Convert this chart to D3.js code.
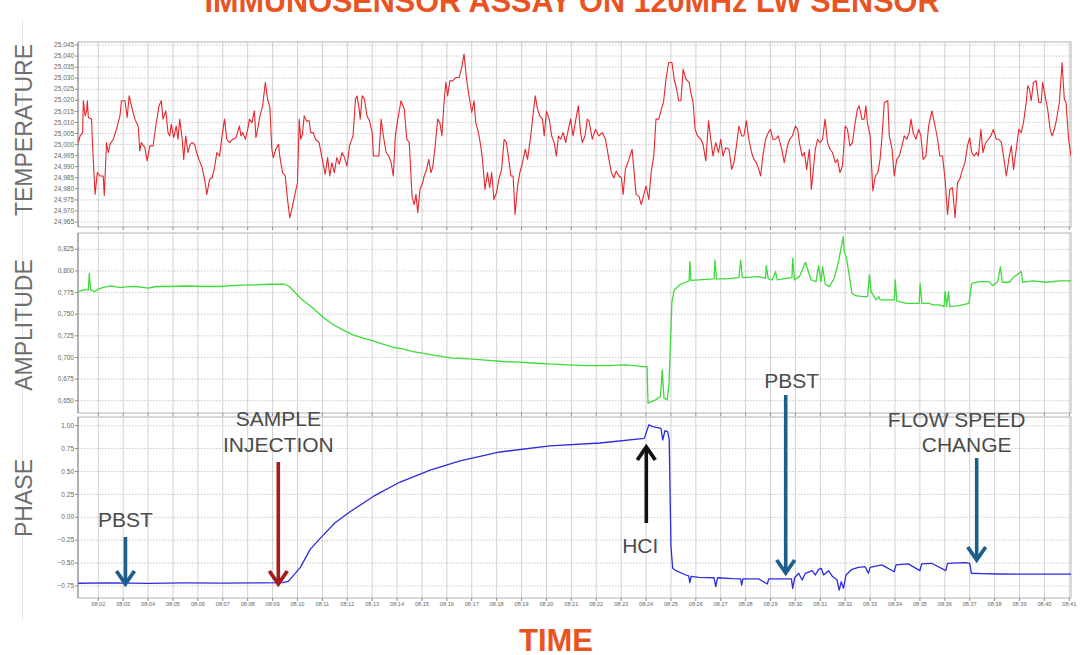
<!DOCTYPE html>
<html>
<head>
<meta charset="utf-8">
<script src="https://cdn.jsdelivr.net/npm/d3@7"></script>
<style>
  body { margin: 0; background: #fff; }
  svg { display: block; font-family: "Liberation Sans", Arial, sans-serif; }
</style>
</head>
<body>
<div id="chart"></div>
<script>
// minutes after 08:00 and the logged value
const tempReadings = [
  [1.20,25.0009],[1.27,25.0039],[1.37,25.0054],[1.40,25.0198],[1.47,25.0130],[1.53,25.0152],[1.56,25.0198],[1.60,25.0122],[1.73,25.0115],[1.77,24.9994],
  [1.87,24.9775],[1.96,24.9873],[2.07,24.9858],[2.20,24.9858],[2.24,24.9770],[2.33,25.0009],[2.40,24.9964],[2.47,25.0001],[2.60,25.0024],[2.73,25.0069],
  [2.87,25.0130],[2.93,25.0198],[3.07,25.0198],[3.16,25.0122],[3.24,25.0220],[3.33,25.0175],[3.47,25.0115],[3.60,25.0084],[3.67,24.9971],[3.73,25.0009],
  [3.87,24.9986],[3.96,24.9926],[4.07,24.9994],[4.20,24.9994],[4.31,25.0084],[4.44,25.0175],[4.53,25.0198],[4.60,25.0115],[4.71,25.0152],[4.80,25.0054],
  [4.87,25.0039],[4.93,25.0092],[5.03,25.0031],[5.13,25.0084],[5.20,25.0024],[5.27,25.0115],[5.37,25.0024],[5.43,24.9933],[5.51,25.0039],[5.60,24.9964],
  [5.69,25.0001],[5.77,25.0009],[5.87,25.0001],[5.93,24.9971],[6.04,24.9933],[6.17,24.9896],[6.27,24.9843],[6.36,24.9775],[6.47,24.9843],[6.57,24.9850],
  [6.67,24.9896],[6.76,24.9964],[6.87,24.9948],[6.97,25.0039],[7.07,25.0115],[7.16,25.0024],[7.27,25.0009],[7.40,25.0024],[7.53,25.0031],[7.67,25.0084],
  [7.73,25.0039],[7.80,25.0054],[7.91,25.0024],[8.00,25.0069],[8.07,25.0115],[8.17,25.0099],[8.27,25.0152],[8.33,25.0031],[8.40,25.0069],[8.49,25.0130],
  [8.60,25.0175],[8.71,25.0281],[8.80,25.0205],[8.89,25.0167],[8.97,24.9979],[9.03,24.9941],[9.13,24.9979],[9.24,25.0001],[9.29,24.9948],[9.40,24.9873],
  [9.51,24.9858],[9.60,24.9752],[9.69,24.9669],[9.80,24.9722],[9.91,24.9782],[10.00,24.9828],[10.07,25.0115],[10.13,25.0024],[10.20,25.0046],[10.27,25.0130],
  [10.36,25.0107],[10.47,25.0107],[10.53,25.0054],[10.63,25.0054],[10.73,25.0024],[10.87,25.0009],[10.97,24.9948],[11.11,24.9865],[11.21,24.9941],[11.30,24.9858],
  [11.38,24.9918],[11.48,24.9873],[11.58,24.9941],[11.68,24.9911],[11.79,24.9964],[11.89,24.9941],[11.99,24.9903],[12.09,24.9994],[12.23,25.0039],[12.33,25.0205],
  [12.39,25.0220],[12.47,25.0167],[12.52,25.0115],[12.60,25.0220],[12.69,25.0205],[12.79,25.0130],[12.89,25.0107],[13.00,25.0054],[13.05,24.9948],[13.16,24.9948],
  [13.27,24.9948],[13.36,25.0115],[13.45,25.0039],[13.56,24.9964],[13.67,24.9948],[13.76,24.9918],[13.85,24.9858],[13.93,25.0039],[14.03,25.0115],[14.16,25.0198],
  [14.29,25.0160],[14.39,25.0024],[14.49,25.0009],[14.60,24.9767],[14.69,24.9729],[14.76,24.9775],[14.83,24.9692],[14.92,24.9797],[15.03,24.9828],[15.09,24.9858],
  [15.19,24.9888],[15.27,24.9933],[15.36,24.9873],[15.43,24.9896],[15.53,24.9994],[15.63,25.0115],[15.72,25.0099],[15.80,25.0039],[15.89,25.0198],[15.96,25.0281],
  [16.03,25.0220],[16.12,25.0288],[16.23,25.0288],[16.36,25.0303],[16.49,25.0303],[16.60,25.0349],[16.69,25.0409],[16.79,25.0296],[16.89,25.0220],[17.00,25.0145],
  [17.09,25.0198],[17.16,25.0099],[17.27,25.0054],[17.36,24.9994],[17.43,24.9933],[17.53,24.9797],[17.63,24.9873],[17.72,24.9805],[17.80,24.9873],[17.89,24.9752],
  [17.99,24.9782],[18.09,24.9843],[18.20,24.9888],[18.30,25.0024],[18.39,25.0009],[18.47,24.9948],[18.57,24.9858],[18.66,24.9858],[18.74,24.9684],[18.84,24.9812],
  [18.93,24.9873],[19.04,24.9918],[19.15,24.9979],[19.24,24.9933],[19.37,25.0039],[19.47,25.0145],[19.55,25.0220],[19.64,25.0160],[19.73,25.0130],[19.84,25.0115],
  [19.91,25.0039],[20.00,25.0152],[20.11,25.0115],[20.21,25.0039],[20.31,25.0009],[20.40,24.9948],[20.48,25.0039],[20.57,25.0024],[20.67,25.0054],[20.77,25.0009],
  [20.88,25.0069],[20.97,25.0115],[21.07,25.0039],[21.17,25.0107],[21.28,25.0175],[21.37,25.0054],[21.44,25.0009],[21.55,25.0039],[21.64,25.0115],[21.71,25.0107],
  [21.84,25.0024],[21.97,25.0069],[22.11,25.0039],[22.24,25.0054],[22.37,25.0024],[22.51,24.9933],[22.61,24.9873],[22.71,24.9850],[22.80,24.9880],[22.91,24.9858],
  [23.01,24.9850],[23.08,24.9775],[23.17,24.9888],[23.31,24.9933],[23.44,24.9979],[23.51,24.9888],[23.60,24.9775],[23.71,24.9767],[23.81,24.9729],[23.91,24.9775],
  [24.00,24.9812],[24.11,24.9752],[24.21,24.9880],[24.31,24.9948],[24.40,25.0115],[24.51,25.0115],[24.62,25.0160],[24.71,25.0198],[24.80,25.0296],[24.91,25.0371],
  [25.04,25.0371],[25.13,25.0296],[25.23,25.0250],[25.31,25.0198],[25.40,25.0198],[25.49,25.0341],[25.60,25.0296],[25.73,25.0281],[25.80,25.0235],[25.89,25.0190],
  [25.97,25.0069],[26.07,25.0039],[26.20,25.0024],[26.29,25.0001],[26.40,24.9926],[26.51,25.0107],[26.60,25.0024],[26.69,24.9948],[26.80,25.0009],[26.91,24.9964],
  [27.00,25.0024],[27.09,24.9948],[27.20,24.9986],[27.33,24.9979],[27.44,24.9888],[27.53,24.9918],[27.63,24.9994],[27.73,25.0084],[27.84,25.0039],[27.93,25.0039],
  [28.03,25.0107],[28.13,25.0024],[28.24,24.9964],[28.33,24.9933],[28.43,24.9918],[28.53,24.9888],[28.60,24.9858],[28.69,24.9948],[28.80,25.0024],[28.91,25.0054],
  [29.00,25.0069],[29.09,25.0024],[29.20,25.0024],[29.31,25.0039],[29.45,24.9979],[29.55,24.9918],[29.68,24.9994],[29.77,25.0024],[29.88,25.0039],[30.00,25.0084],
  [30.09,25.0069],[30.16,25.0009],[30.27,24.9948],[30.36,24.9964],[30.45,24.9888],[30.56,24.9979],[30.64,24.9797],[30.72,24.9888],[30.80,24.9979],[30.89,25.0024],
  [30.99,25.0009],[31.09,25.0024],[31.19,25.0115],[31.29,25.0009],[31.39,24.9979],[31.49,24.9964],[31.60,24.9918],[31.69,24.9933],[31.79,24.9873],[31.89,24.9903],
  [32.00,25.0084],[32.09,25.0069],[32.19,24.9994],[32.29,25.0009],[32.40,25.0099],[32.49,25.0160],[32.56,25.0175],[32.67,25.0115],[32.76,25.0115],[32.83,25.0175],
  [32.89,25.0099],[33.00,25.0039],[33.11,24.9790],[33.21,24.9858],[33.31,24.9873],[33.40,24.9933],[33.48,25.0039],[33.57,25.0190],[33.71,25.0198],[33.77,25.0039],
  [33.88,24.9979],[33.97,24.9858],[34.07,24.9933],[34.17,24.9948],[34.28,24.9994],[34.37,25.0039],[34.47,25.0024],[34.57,25.0054],[34.64,25.0115],[34.73,25.0054],
  [34.84,25.0024],[34.95,25.0069],[35.04,25.0039],[35.13,24.9933],[35.24,24.9948],[35.35,25.0084],[35.48,25.0152],[35.61,25.0084],[35.71,25.0024],[35.80,24.9948],
  [35.91,24.9948],[36.01,24.9843],[36.11,24.9684],[36.20,24.9797],[36.31,24.9805],[36.41,24.9669],[36.51,24.9828],[36.60,24.9843],[36.71,24.9888],[36.81,24.9918],
  [36.91,24.9994],[37.00,25.0031],[37.08,24.9964],[37.18,24.9948],[37.27,24.9964],[37.35,24.9948],[37.45,25.0069],[37.53,24.9964],[37.64,25.0009],[37.75,25.0024],
  [37.85,25.0039],[37.95,25.0069],[38.07,25.0024],[38.17,25.0024],[38.27,25.0009],[38.36,24.9948],[38.47,24.9858],[38.57,24.9933],[38.67,24.9994],[38.76,24.9888],
  [38.87,24.9979],[38.97,25.0069],[39.07,25.0054],[39.16,25.0099],[39.27,25.0190],[39.33,25.0266],[39.40,25.0250],[39.47,25.0198],[39.56,25.0281],[39.67,25.0288],
  [39.77,25.0190],[39.87,25.0190],[39.93,25.0281],[40.04,25.0213],[40.13,25.0160],[40.23,25.0069],[40.31,25.0039],[40.40,25.0069],[40.49,25.0115],[40.60,25.0190],
  [40.71,25.0371],[40.80,25.0205],[40.87,25.0190],[40.97,25.0024],[41.07,24.9948],[41.13,24.9971]
];

const ampReadings = [
  [1.20,0.7761],[1.40,0.7780],[1.60,0.7780],[1.64,0.7973],[1.69,0.7780],[1.87,0.7761],[2.00,0.7790],[2.20,0.7810],[2.53,0.7826],[2.87,0.7807],
  [3.20,0.7819],[3.53,0.7820],[4.00,0.7800],[4.33,0.7820],[4.87,0.7820],[5.53,0.7826],[6.20,0.7820],[6.87,0.7820],[7.53,0.7834],[8.20,0.7838],
  [8.87,0.7846],[9.47,0.7846],[9.67,0.7820],[9.93,0.7742],[10.20,0.7665],[10.59,0.7576],[11.00,0.7472],[11.41,0.7384],[11.82,0.7318],[12.23,0.7260],
  [12.63,0.7222],[13.03,0.7191],[13.43,0.7153],[13.83,0.7118],[14.23,0.7099],[14.63,0.7068],[15.03,0.7049],[15.56,0.7022],[16.23,0.6991],[16.89,0.6984],
  [17.56,0.6968],[18.23,0.6953],[18.90,0.6945],[19.57,0.6933],[20.24,0.6922],[20.91,0.6914],[21.64,0.6906],[21.84,0.6906],[22.51,0.6906],[23.17,0.6914],
  [23.91,0.6895],[24.04,0.6895],[24.08,0.6471],[24.38,0.6510],[24.58,0.6548],[24.65,0.6856],[24.72,0.6529],[24.85,0.6510],[24.92,0.6683],[25.04,0.7646],
  [25.14,0.7780],[25.34,0.7838],[25.60,0.7869],[25.73,0.7884],[25.76,0.8108],[25.81,0.7890],[26.13,0.7896],[26.73,0.7907],[26.77,0.8127],[26.83,0.7907],
  [27.20,0.7907],[27.73,0.7923],[27.80,0.8127],[27.87,0.7923],[28.53,0.7934],[28.80,0.7915],[28.83,0.8061],[28.91,0.7907],[29.07,0.7896],[29.20,0.7992],
  [29.27,0.7896],[29.62,0.7915],[29.86,0.7923],[29.89,0.8146],[29.96,0.7896],[30.16,0.7934],[30.40,0.8100],[30.63,0.7896],[30.83,0.7877],[30.93,0.8061],
  [31.03,0.7877],[31.09,0.8050],[31.20,0.7846],[31.36,0.7819],[31.56,0.7915],[31.73,0.8108],[31.83,0.8262],[31.92,0.8396],[31.96,0.8223],[32.05,0.8146],
  [32.16,0.7954],[32.27,0.7742],[32.43,0.7715],[32.70,0.7703],[32.90,0.7703],[32.97,0.7954],[33.04,0.7761],[33.24,0.7665],[33.35,0.7703],[33.40,0.7665],
  [33.77,0.7665],[33.97,0.7665],[34.01,0.7896],[34.07,0.7653],[34.44,0.7626],[34.97,0.7626],[35.01,0.7857],[35.08,0.7626],[35.37,0.7626],[35.51,0.7607],
  [35.77,0.7607],[35.97,0.7588],[36.01,0.7761],[36.07,0.7588],[36.15,0.7761],[36.20,0.7588],[36.57,0.7599],[36.97,0.7626],[37.08,0.7857],[37.38,0.7877],
  [37.77,0.7877],[37.92,0.7830],[38.13,0.7877],[38.23,0.8050],[38.31,0.7869],[38.60,0.7869],[38.71,0.7915],[39.07,0.7992],[39.13,0.7869],[39.53,0.7884],
  [40.07,0.7869],[40.60,0.7884],[41.13,0.7884]
];

const phaseReadings = [
  [1.20,-0.720],[2.50,-0.715],[4.00,-0.722],[5.50,-0.716],[7.00,-0.718],[8.50,-0.715],[9.40,-0.713],[9.63,-0.700],[10.11,-0.550],[10.51,-0.350],
  [10.91,-0.230],[11.51,-0.060],[12.11,0.060],[13.12,0.240],[14.12,0.385],[15.33,0.516],[16.53,0.615],[18.13,0.713],[20.14,0.779],[22.15,0.811],
  [23.93,0.862],[24.11,1.008],[24.27,0.990],[24.60,0.970],[24.67,0.844],[24.76,0.945],[24.87,0.935],[24.93,0.850],[25.00,-0.320],[25.07,-0.557],
  [25.20,-0.583],[25.60,-0.630],[25.71,-0.640],[25.76,-0.714],[25.81,-0.645],[26.13,-0.655],[26.73,-0.660],[26.80,-0.757],[26.87,-0.660],[27.47,-0.670],
  [27.80,-0.673],[27.84,-0.740],[27.89,-0.673],[28.53,-0.673],[28.87,-0.728],[28.93,-0.673],[29.60,-0.673],[29.84,-0.673],[29.89,-0.775],[29.97,-0.660],
  [30.13,-0.611],[30.27,-0.684],[30.40,-0.611],[30.67,-0.583],[30.80,-0.630],[30.93,-0.568],[31.04,-0.557],[31.13,-0.630],[31.33,-0.583],[31.47,-0.640],
  [31.67,-0.684],[31.76,-0.794],[31.84,-0.702],[31.93,-0.775],[32.03,-0.630],[32.27,-0.568],[32.53,-0.546],[32.80,-0.539],[32.93,-0.611],[33.00,-0.546],
  [33.47,-0.520],[33.97,-0.594],[34.04,-0.520],[34.53,-0.509],[35.00,-0.582],[35.07,-0.509],[35.47,-0.502],[36.04,-0.582],[36.11,-0.502],[36.80,-0.495],
  [37.00,-0.502],[37.07,-0.611],[37.47,-0.615],[38.13,-0.619],[39.50,-0.620],[41.13,-0.620]
];

const tempTicks = [25.045, 25.040, 25.035, 25.030, 25.025, 25.020, 25.015, 25.010, 25.005, 25.000,
  24.995, 24.990, 24.985, 24.980, 24.975, 24.970, 24.965];
const ampTicks = [0.825, 0.800, 0.775, 0.750, 0.725, 0.700, 0.675, 0.650];
const phaseTicks = [1.00, 0.75, 0.50, 0.25, 0.00, -0.25, -0.50, -0.75];
const minuteTicks = d3.range(2, 42);

// event markers on the phase trace: minute, arrow tail / tip in phase units
const events = [
  { lines: ['PBST'], minute: 3.09, tail: -0.215, tip: -0.728, color: '#1d5f8a', textX: 0, textY: [527] },
  { lines: ['SAMPLE', 'INJECTION'], minute: 9.23, tail: 0.604, tip: -0.728, color: '#a31d1d', textX: 0, textY: [426, 452] },
  { lines: ['HCI'], minute: 24.01, tail: -0.062, tip: 0.767, color: '#111111', textX: -6, textY: [553] },
  { lines: ['PBST'], minute: 29.61, tail: 1.335, tip: -0.608, color: '#1d5f8a', textX: 6, textY: [388] },
  { lines: ['FLOW SPEED', 'CHANGE'], minute: 37.28, tail: 0.647, tip: -0.466, color: '#1d5f8a', textX: -20, textY: [427, 452] }
];

const width = 1084, height = 655;
const plotLeft = 78, plotRight = 1071;

const svg = d3.select('#chart').append('svg')
  .attr('width', width)
  .attr('height', height);

// faint edge of the captured screen
svg.append('line')
  .attr('x1', 22.5).attr('x2', 22.5).attr('y1', 20).attr('y2', 620)
  .attr('stroke', '#e4e4e4');

const x = d3.scaleLinear().domain([2, 41]).range([98.3, 1069.3]);
const timeLabel = m => `08:${String(m).padStart(2, '0')}`;
const commaFmt = f => v => d3.format(f)(v).replace('.', ',');

const panels = [
  { name: 'TEMPERATURE', readings: tempReadings, ticks: tempTicks, top: 42, bottom: 227,
    y: d3.scaleLinear().domain([24.965, 25.045]).range([222, 45]), fmt: commaFmt('.3f'),
    color: '#e8262c', width: 1.1, labelY: 130 },
  { name: 'AMPLITUDE', readings: ampReadings, ticks: ampTicks, top: 233, bottom: 413,
    y: d3.scaleLinear().domain([0.650, 0.825]).range([400.7, 249.3]), fmt: commaFmt('.3f'),
    color: '#3ddc3a', width: 1.3, labelY: 325 },
  { name: 'PHASE', readings: phaseReadings, ticks: phaseTicks, top: 417, bottom: 598,
    y: d3.scaleLinear().domain([-0.75, 1.00]).range([586, 425.7]), fmt: d3.format('.2f'),
    color: '#2b2be0', width: 1.3, labelY: 498 }
];

panels.forEach((p, i) => {
  const g = svg.append('g').attr('class', 'panel');
  const clipId = `clip-${i}`;
  svg.append('clipPath').attr('id', clipId)
    .append('rect')
    .attr('x', plotLeft).attr('y', p.top)
    .attr('width', plotRight - plotLeft).attr('height', p.bottom - p.top);

  // grid
  g.append('g').selectAll('line')
    .data(minuteTicks)
    .join('line')
    .attr('x1', d => x(d)).attr('x2', d => x(d))
    .attr('y1', p.top).attr('y2', p.bottom)
    .attr('stroke', '#d2d2d2')
    .attr('stroke-width', 1);

  g.append('g').selectAll('line')
    .data(p.ticks)
    .join('line')
    .attr('x1', plotLeft).attr('x2', plotRight)
    .attr('y1', d => p.y(d)).attr('y2', d => p.y(d))
    .attr('stroke', '#bdbdbd')
    .attr('stroke-dasharray', '1.5,1.5')
    .attr('stroke-width', 0.8);

  // frame
  g.append('rect')
    .attr('x', plotLeft).attr('y', p.top)
    .attr('width', plotRight - plotLeft).attr('height', p.bottom - p.top)
    .attr('fill', 'none')
    .attr('stroke', '#b4b4b4');

  g.append('line')
    .attr('x1', plotLeft).attr('x2', plotLeft)
    .attr('y1', p.top).attr('y2', p.bottom)
    .attr('stroke', '#8c8c8c');

  // y ticks and labels
  const yTicks = g.append('g').selectAll('g')
    .data(p.ticks)
    .join('g')
    .attr('transform', d => `translate(0,${p.y(d)})`);
  yTicks.append('line')
    .attr('x1', plotLeft - 3).attr('x2', plotLeft)
    .attr('stroke', '#8c8c8c');
  yTicks.append('text')
    .attr('x', plotLeft - 4)
    .attr('dy', '0.33em')
    .attr('text-anchor', 'end')
    .attr('fill', '#666')
    .style('font-size', '6.5px')
    .text(d => p.fmt(d));

  // x ticks under every panel
  g.append('g').selectAll('line')
    .data(minuteTicks)
    .join('line')
    .attr('x1', d => x(d)).attr('x2', d => x(d))
    .attr('y1', p.bottom).attr('y2', p.bottom + 3)
    .attr('stroke', '#8c8c8c');

  // series
  const line = d3.line()
    .x(d => x(d[0]))
    .y(d => p.y(d[1]));

  g.append('path')
    .datum(p.readings)
    .attr('clip-path', `url(#${clipId})`)
    .attr('fill', 'none')
    .attr('stroke', p.color)
    .attr('stroke-width', p.width)
    .attr('stroke-linejoin', 'round')
    .attr('d', line);

  // side label
  svg.append('text')
    .attr('transform', `translate(32,${p.labelY}) rotate(-90)`)
    .attr('text-anchor', 'middle')
    .attr('fill', '#6e6e6e')
    .style('font-size', '23px')
    .text(p.name);
});

// time labels
svg.append('g').selectAll('text')
  .data(minuteTicks)
  .join('text')
  .attr('x', d => x(d))
  .attr('y', 606)
  .attr('text-anchor', 'middle')
  .attr('fill', '#666')
  .style('font-size', '5.6px')
  .text(timeLabel);

// annotations on the phase panel
const phaseY = panels[2].y;
const notes = svg.append('g').attr('class', 'events');

events.forEach(ev => {
  const ex = x(ev.minute);
  const y0 = phaseY(ev.tail);
  const y1 = phaseY(ev.tip);
  const dir = y1 > y0 ? 1 : -1;
  notes.append('line')
    .attr('x1', ex).attr('x2', ex)
    .attr('y1', y0).attr('y2', y1 - dir * 2)
    .attr('stroke', ev.color)
    .attr('stroke-width', 3.6);
  notes.append('path')
    .attr('d', `M${ex - 9},${y1 - dir * 13}L${ex},${y1}L${ex + 9},${y1 - dir * 13}`)
    .attr('fill', 'none')
    .attr('stroke', ev.color)
    .attr('stroke-width', 3.8)
    .attr('stroke-linejoin', 'miter');
  ev.lines.forEach((t, k) => {
    notes.append('text')
      .attr('x', ex + ev.textX + (k === 1 && ev.lines[0] === 'FLOW SPEED' ? 10 : 0))
      .attr('y', ev.textY[k])
      .attr('text-anchor', 'middle')
      .attr('fill', '#4b4b4b')
      .style('font-size', '21px')
      .text(t);
  });
});

// headings
svg.append('text')
  .attr('x', 572)
  .attr('y', 12)
  .attr('text-anchor', 'middle')
  .attr('fill', '#e9531f')
  .attr('textLength', 735)
  .attr('lengthAdjust', 'spacingAndGlyphs')
  .style('font-size', '32px')
  .style('font-weight', 'bold')
  .text('IMMUNOSENSOR ASSAY ON 120MHz LW SENSOR');

svg.append('text')
  .attr('x', 556)
  .attr('y', 651)
  .attr('text-anchor', 'middle')
  .attr('fill', '#e9531f')
  .style('font-size', '31px')
  .style('font-weight', 'bold')
  .text('TIME');
</script>
</body>
</html>
